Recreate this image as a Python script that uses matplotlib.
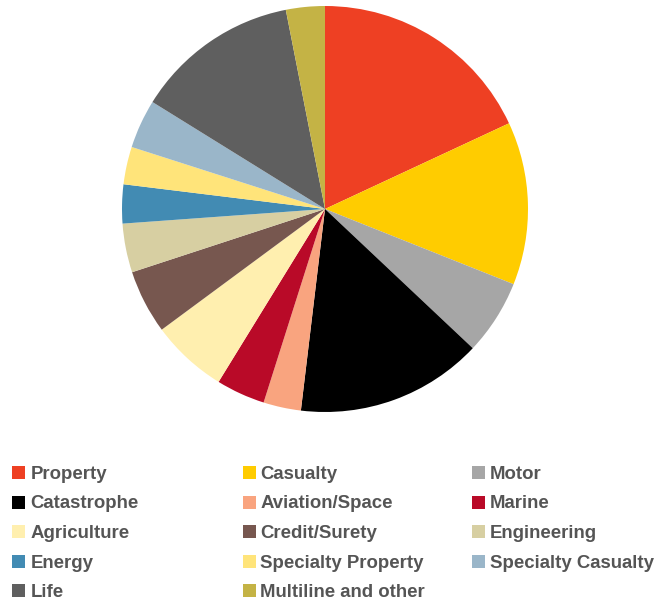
import matplotlib
matplotlib.use("Agg")
import matplotlib.pyplot as plt
from matplotlib.patches import Rectangle

# premium share by line of business (%)
labels = [
    "Property", "Casualty", "Motor", "Catastrophe", "Aviation/Space",
    "Marine", "Agriculture", "Credit/Surety", "Engineering", "Energy",
    "Specialty Property", "Specialty Casualty", "Life", "Multiline and other",
]
shares = [18.1, 13.0, 6.0, 14.9, 3.0, 3.9, 6.1, 5.1, 3.9, 3.1, 3.0, 3.9, 13.1, 3.1]
colors = [
    "#EE4023", "#FFCC00", "#A6A6A6", "#000000", "#F9A47F",
    "#B90A28", "#FFEFAF", "#77574F", "#D7CFA2", "#428BB3",
    "#FFE47A", "#9AB6C9", "#5F5F5F", "#C4B345",
]

W, H = 656, 601
fig = plt.figure(figsize=(W / 100, H / 100), dpi=100)

# pie: centre (325, 209) px, radius 203 px
cx, cy, r = 325, 209, 203
ax = fig.add_axes([(cx - r) / W, (H - cy - r) / H, 2 * r / W, 2 * r / H])
wedges, _ = ax.pie(shares, colors=colors, startangle=90, counterclock=False,
                   wedgeprops=dict(linewidth=0))
ax.set_xlim(-1, 1)
ax.set_ylim(-1, 1)
ax.set_aspect("equal")
ax.axis("off")

# legend: 3 columns, filled row by row
marker_x = [12, 243, 472]
text_x = [30.5, 260.5, 490]
row0 = 479
row_step = 29.5
sq = 13
for i, (lab, w) in enumerate(zip(labels, wedges)):
    row, col = divmod(i, 3)
    base = row0 + row * row_step
    fig.patches.append(Rectangle(
        (marker_x[col] / W, (H - base) / H), sq / W, sq / H,
        transform=fig.transFigure, facecolor=w.get_facecolor(), edgecolor="none"))
    fig.text(text_x[col] / W, (H - base) / H, lab, fontsize=13.4,
             fontweight="bold", color="#555555", family="Liberation Sans",
             va="baseline", ha="left")

fig.savefig("out.png", dpi=100)
plt.close(fig)
